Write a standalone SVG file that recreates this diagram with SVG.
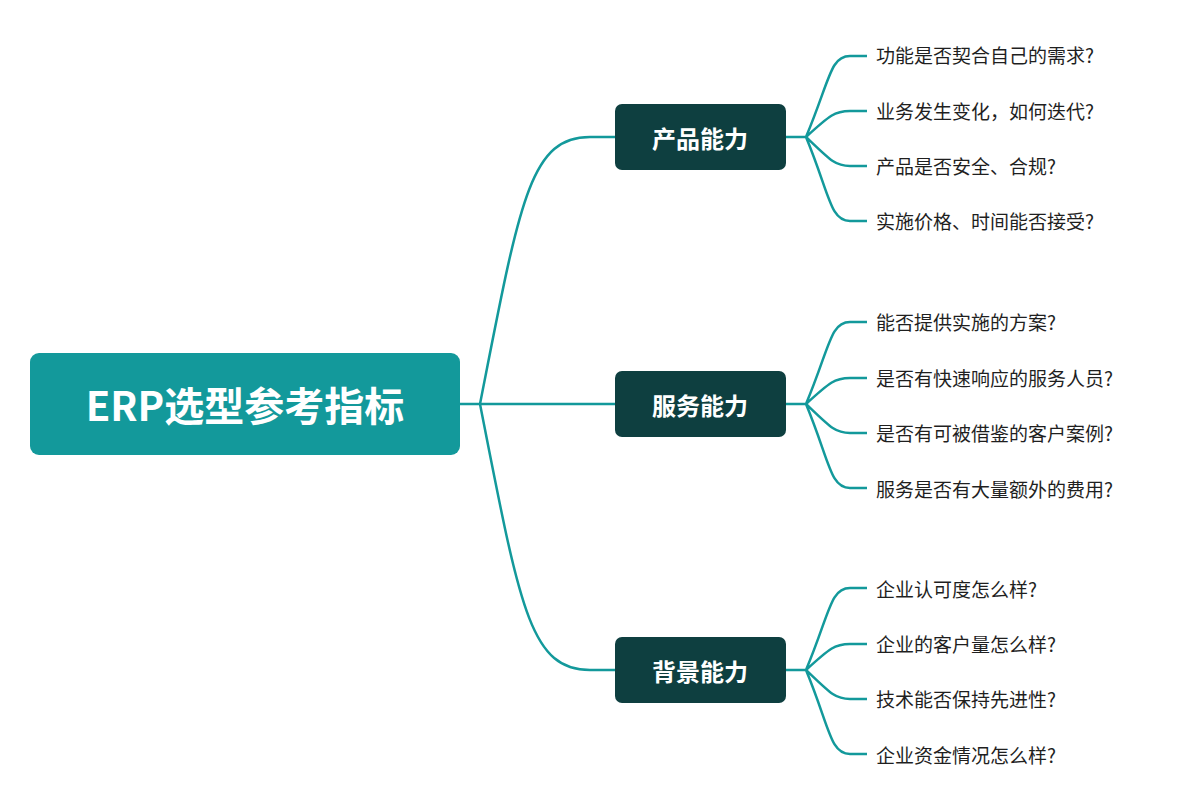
<svg xmlns="http://www.w3.org/2000/svg" width="1200" height="805" viewBox="0 0 1200 805">
<style>
.c{fill:none;stroke:#13999b;stroke-width:2.5}
.b{fill:#0e3f40}
.bt{fill:#fff;font:bold 24px "Noto Sans CJK SC",sans-serif;text-anchor:middle;dominant-baseline:central}
.l{fill:#1f1f1f;font:19px "Noto Sans CJK SC",sans-serif;dominant-baseline:central}
</style>
<rect width="1200" height="805" fill="#fff"/>
<g id="connectors">
<path class="c" d="M460 404H480M480 404C520 200 530 137 590 137H615M480 404H615M480 404C520 608 530 670 590 670H615"/>
<path class="c" d="M786 137H806M806 137C830 80 830 56 850 56H867M806 137C830 115 835 111 850 111H867M806 137C830 160 835 166 850 166H867M806 137C830 195 830 221 850 221H867"/>
<path class="c" d="M786 404H806M806 404C830 347 830 322 850 322H867M806 404C830 382 835 378 850 378H867M806 404C830 427 835 433 850 433H867M806 404C830 462 830 488 850 488H867"/>
<path class="c" d="M786 670H806M806 670C830 613 830 588 850 588H867M806 670C830 648 835 644 850 644H867M806 670C830 693 835 699 850 699H867M806 670C830 728 830 754 850 754H867"/>
</g>
<g id="root"><rect x="30" y="353" width="430" height="102" rx="9" fill="#13999b"/><text x="245" y="404" fill="#fff" style="font:bold 40px 'Noto Sans CJK SC',sans-serif" text-anchor="middle" dominant-baseline="central">ERP选型参考指标</text></g>
<g id="b1"><rect class="b" x="615" y="104" width="171" height="66" rx="7"/><text class="bt" x="700" y="137">产品能力</text></g>
<g id="b2"><rect class="b" x="615" y="371" width="171" height="66" rx="7"/><text class="bt" x="700" y="404">服务能力</text></g>
<g id="b3"><rect class="b" x="615" y="637" width="171" height="66" rx="7"/><text class="bt" x="700" y="670">背景能力</text></g>
<g id="leaves">
<text class="l" x="876" y="54">功能是否契合自己的需求?</text>
<text class="l" x="876" y="110">业务发生变化，如何迭代?</text>
<text class="l" x="876" y="165">产品是否安全、合规?</text>
<text class="l" x="876" y="220">实施价格、时间能否接受?</text>
<text class="l" x="876" y="321">能否提供实施的方案?</text>
<text class="l" x="876" y="377">是否有快速响应的服务人员?</text>
<text class="l" x="876" y="432">是否有可被借鉴的客户案例?</text>
<text class="l" x="876" y="488">服务是否有大量额外的费用?</text>
<text class="l" x="876" y="588">企业认可度怎么样?</text>
<text class="l" x="876" y="643">企业的客户量怎么样?</text>
<text class="l" x="876" y="698">技术能否保持先进性?</text>
<text class="l" x="876" y="754">企业资金情况怎么样?</text>
</g>
</svg>
